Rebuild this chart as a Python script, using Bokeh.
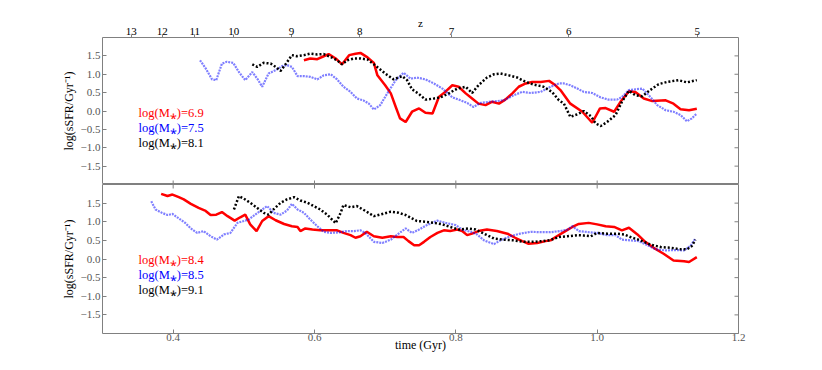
import math
from bokeh.plotting import figure
from bokeh.models import LinearAxis, FixedTicker, Range1d, ColumnDataSource
from bokeh.layouts import column
from bokeh.embed import file_html
from bokeh.resources import INLINE
from bokeh.core.properties import value

# ---------------- data ----------------
# top panel
t_top_a = [0.585,0.594,0.604,0.613,0.620,0.630,0.639,0.649,0.658,0.665,0.675,0.684,0.689,0.700,0.708,0.715,0.721,0.729,0.738,0.748,0.757,0.767,0.776,0.785,0.795,0.804,0.814,0.823,0.832,0.842,0.851,0.861,0.870,0.880,0.889,0.899,0.908,0.920,0.932,0.941,0.948,0.962,0.979,0.993,1.004,1.012,1.024,1.033,1.045,1.054,1.066,1.078,1.097,1.108,1.118,1.130,1.141]
s_top_a = [1.38,1.43,1.41,1.49,1.55,1.43,1.27,1.52,1.56,1.58,1.46,1.31,0.97,0.70,0.48,0.11,-0.20,-0.30,-0.02,0.07,-0.05,-0.07,0.38,0.52,0.70,0.66,0.48,0.34,0.20,0.16,0.25,0.20,0.31,0.48,0.66,0.75,0.79,0.79,0.82,0.70,0.57,0.20,-0.02,-0.32,0.07,0.08,-0.02,0.25,0.54,0.52,0.34,0.27,0.29,0.20,0.05,0.02,0.06]

t_top_b = [0.438,0.446,0.455,0.461,0.469,0.476,0.485,0.493,0.502,0.512,
           0.519,0.526,0.535,0.545,0.554,0.561,0.568,0.576,0.585,0.594,
           0.604,0.613,0.623,0.632,0.641,0.651,0.660,0.669,0.677,0.684,
           0.693,0.703,0.715,0.726,0.736,0.745,0.757,0.769,0.781,0.795,
           0.807,0.816,0.825,0.835,0.847,0.858,0.868,0.882,0.894,0.906,
           0.920,0.934,0.946,0.953,0.962,0.972,0.981,0.993,1.005,1.016,
           1.028,1.035,1.045,1.054,1.064,1.073,1.085,1.097,1.108,1.118,
           1.127,1.134,1.141]
s_top_b = [1.38,1.16,0.86,0.84,1.29,1.34,1.31,1.06,0.84,1.06,
           0.88,0.66,1.02,1.11,1.22,1.25,1.20,0.95,0.95,0.93,
           0.86,0.97,1.00,0.86,0.66,0.52,0.34,0.29,0.20,0.04,
           0.16,0.48,0.84,1.04,0.88,0.91,0.86,0.75,0.61,0.37,
           0.29,0.22,0.11,0.22,0.25,0.27,0.29,0.43,0.52,0.49,
           0.52,0.66,0.75,0.75,0.70,0.61,0.52,0.49,0.37,0.31,
           0.31,0.38,0.57,0.59,0.61,0.43,0.16,0.02,-0.02,-0.11,
           -0.28,-0.20,-0.07]

t_top_c = [0.512,0.519,0.528,0.538,0.545,0.552,0.559,0.568,0.575,0.585,
           0.594,0.604,0.613,0.623,0.632,0.639,0.646,0.656,0.665,0.675,
           0.684,0.693,0.700,0.712,0.724,0.731,0.738,0.748,0.757,0.769,
           0.778,0.790,0.802,0.814,0.823,0.832,0.844,0.854,0.863,0.875,
           0.887,0.899,0.910,0.924,0.936,0.946,0.953,0.962,0.972,0.981,
           0.991,0.998,1.005,1.014,1.026,1.035,1.045,1.054,1.064,1.075,
           1.087,1.099,1.115,1.127,1.141]
s_top_c = [1.27,1.20,1.31,1.29,1.20,1.09,1.27,1.52,1.49,1.52,
           1.56,1.54,1.55,1.47,1.38,1.27,1.38,1.43,1.43,1.40,
           1.27,1.13,1.02,0.86,0.95,0.84,0.59,0.46,0.31,0.34,
           0.37,0.48,0.61,0.66,0.49,0.70,0.91,1.00,1.02,0.97,
           0.91,0.79,0.72,0.66,0.52,0.29,0.20,-0.16,-0.09,0.00,
           -0.14,-0.34,-0.41,-0.30,-0.11,0.25,0.55,0.43,0.40,0.57,
           0.73,0.79,0.84,0.78,0.84]

# bottom panel
t_bot_a = [0.383,0.392,0.399,0.408,0.415,0.425,0.436,0.446,0.453,0.461,
           0.469,0.477,0.487,0.495,0.502,0.509,0.518,0.526,0.535,0.545,
           0.557,0.568,0.576,0.580,0.587,0.597,0.608,0.620,0.632,0.641,
           0.651,0.658,0.665,0.674,0.684,0.696,0.708,0.717,0.726,0.733,
           0.741,0.748,0.755,0.764,0.774,0.783,0.792,0.802,0.809,0.816,
           0.823,0.832,0.844,0.858,0.873,0.884,0.894,0.903,0.915,0.927,
           0.934,0.943,0.955,0.965,0.974,0.988,1.000,1.012,1.024,1.035,
           1.045,1.057,1.068,1.080,1.094,1.108,1.123,1.130,1.141]
s_bot_a = [1.75,1.69,1.73,1.66,1.60,1.48,1.37,1.29,1.18,1.19,
           1.26,1.15,1.03,1.12,1.19,0.93,0.75,1.02,1.15,1.04,
           0.94,0.88,0.86,0.75,0.82,0.79,0.77,0.77,0.77,0.70,
           0.64,0.57,0.61,0.73,0.61,0.57,0.61,0.59,0.59,0.48,
           0.37,0.37,0.46,0.59,0.70,0.77,0.75,0.79,0.75,0.64,
           0.68,0.75,0.79,0.75,0.68,0.57,0.48,0.41,0.43,0.48,
           0.50,0.61,0.75,0.86,0.94,0.97,0.93,0.88,0.86,0.77,
           0.84,0.66,0.46,0.30,0.14,-0.04,-0.06,-0.08,0.05]

t_bot_b = [0.369,0.375,0.384,0.392,0.399,0.408,0.417,0.425,0.434,0.443,
           0.453,0.462,0.472,0.481,0.491,0.500,0.507,0.516,0.526,0.533,
           0.542,0.552,0.561,0.568,0.576,0.585,0.594,0.604,0.613,0.623,
           0.637,0.646,0.656,0.665,0.672,0.684,0.696,0.708,0.719,0.729,
           0.738,0.748,0.759,0.774,0.785,0.800,0.809,0.821,0.830,0.840,
           0.854,0.863,0.877,0.891,0.906,0.920,0.934,0.948,0.958,0.965,
           0.974,0.988,1.000,1.014,1.026,1.035,1.047,1.059,1.071,1.083,
           1.097,1.111,1.123,1.132,1.139]
s_bot_b = [1.55,1.33,1.24,1.18,1.21,1.09,0.97,0.82,0.70,0.75,
           0.61,0.52,0.66,0.70,0.97,1.02,1.06,1.19,1.33,1.42,
           1.24,1.19,1.30,1.48,1.33,1.24,1.06,0.88,0.73,0.70,
           0.72,0.75,0.75,0.77,0.70,0.46,0.43,0.52,0.68,0.82,
           0.70,0.79,0.91,1.03,0.97,0.91,0.79,0.73,0.66,0.50,
           0.40,0.50,0.61,0.68,0.73,0.72,0.72,0.75,0.79,0.88,
           0.75,0.72,0.70,0.64,0.64,0.52,0.50,0.48,0.37,0.26,
           0.23,0.24,0.23,0.35,0.55]

t_bot_c = [0.486,0.493,0.500,0.509,0.519,0.528,0.535,0.542,0.552,0.561,
           0.571,0.580,0.590,0.599,0.608,0.618,0.630,0.637,0.641,0.651,
           0.660,0.672,0.684,0.696,0.708,0.719,0.729,0.738,0.745,0.757,
           0.769,0.781,0.792,0.804,0.818,0.828,0.840,0.854,0.868,0.882,
           0.896,0.910,0.922,0.934,0.946,0.958,0.972,0.981,0.991,1.000,
           1.014,1.028,1.038,1.047,1.061,1.075,1.090,1.104,1.118,1.127,
           1.134,1.139]
s_bot_c = [1.33,1.69,1.62,1.51,1.37,1.24,1.19,1.33,1.51,1.60,
           1.66,1.57,1.51,1.42,1.33,1.19,0.96,1.24,1.45,1.39,
           1.42,1.29,1.15,1.21,1.27,1.24,1.18,1.09,1.02,1.00,
           0.97,0.93,0.86,0.79,0.82,0.79,0.68,0.55,0.52,0.50,
           0.46,0.46,0.48,0.51,0.59,0.61,0.64,0.63,0.61,0.70,
           0.68,0.68,0.66,0.59,0.50,0.39,0.32,0.30,0.26,0.26,
           0.35,0.52]

# legend labels
labels_top = ["log(M\u204e)=6.9", "log(M\u204e)=7.5", "log(M\u204e)=8.1"]
labels_bot = ["log(M\u204e)=8.4", "log(M\u204e)=8.5", "log(M\u204e)=9.1"]
label_y_top = [-0.05, -0.46, -0.87]
label_y_bot = [-0.04, -0.44, -0.82]
label_x = 0.351

# axes ticks
X_MIN, X_MAX, Y_MIN, Y_MAX = 0.3, 1.2, -2.0, 2.0
x_ticks = [0.4, 0.6, 0.8, 1.0, 1.2]
x_tick_labels = ["0.4", "0.6", "0.8", "1.0", "1.2"]
y_ticks = [-1.5, -1.0, -0.5, 0.0, 0.5, 1.0, 1.5]
y_tick_labels = ["\u22121.5", "\u22121.0", "\u22120.5", "0.0", "0.5", "1.0", "1.5"]
z_tick_times = [0.3406, 0.3845, 0.4306, 0.4858, 0.5675, 0.6641, 0.7939, 0.9598, 1.1415]
z_tick_labels = ["13", "12", "11", "10", "9", "8", "7", "6", "5"]

# ---------------- style ----------------
SERIF = "Liberation Serif"
FRAME = "#808080"
TICKLAB = "#555555"
colors = ["#ff0000", "#0000ff", "#000000"]


def style_axis(ax, overrides, tick_in=4, tick_out=0):
    ax.axis_line_color = None
    ax.major_tick_in = tick_in
    ax.major_tick_out = tick_out
    ax.minor_tick_in = 0
    ax.minor_tick_out = 0
    ax.major_tick_line_color = FRAME
    ax.major_tick_line_width = 1
    ax.major_label_text_font = SERIF
    ax.major_label_text_color = TICKLAB
    ax.major_label_text_font_size = "11px"
    ax.major_label_overrides = overrides
    ax.axis_label_text_font = SERIF
    ax.axis_label_text_font_style = "normal"
    ax.axis_label_text_font_size = "12px"
    ax.axis_label_text_color = "#000000"


def inner_ticks(p, xs, ys, vertical):
    # small tick marks on frame edges (half of each marker is clipped away)
    p.scatter(xs, ys, marker="dash", size=8, line_color=FRAME, line_width=1,
              angle=(math.pi / 2 if vertical else 0.0))


def make_panel(height, top, bottom, x_axis_loc):
    p = figure(width=822, height=height,
               x_range=Range1d(X_MIN, X_MAX), y_range=Range1d(Y_MIN, Y_MAX),
               output_backend="svg", toolbar_location=None,
               x_axis_location=x_axis_loc,
               min_border_left=102, min_border_right=84,
               min_border_top=top, min_border_bottom=bottom,
               background_fill_color="white", border_fill_color="white")
    p.grid.visible = False
    p.outline_line_color = FRAME
    p.outline_line_width = 1
    p.yaxis.ticker = FixedTicker(ticks=y_ticks)
    style_axis(p.yaxis[0], dict(zip(y_ticks, y_tick_labels)))
    p.yaxis[0].major_label_standoff = 2
    p.yaxis[0].axis_label = "log(sSFR/Gyr\u207b\u00b9)"
    p.yaxis[0].axis_label_standoff = 2
    # right-edge ticks
    inner_ticks(p, [X_MAX] * len(y_ticks), y_ticks, False)
    return p


def draw(p, ta, sa, tb, sb, tc, sc, labels, ly):
    p.line(ta, sa, line_color=colors[0], line_width=2.5)
    p.line(tb, sb, line_color=colors[1], line_width=2.2, line_alpha=0.5,
           line_dash="2 1")
    p.line(tc, sc, line_color=colors[2], line_width=2.5, line_dash="2 2")
    src = ColumnDataSource(dict(x=[label_x] * len(labels), y=ly,
                                text=labels, color=colors))
    p.text(x="x", y="y", text="text", text_color="color", source=src,
           text_font=value(SERIF), text_font_size="12.5px",
           text_align="left", text_baseline="middle")


# top panel
top = make_panel(184, 37, 0, None)
inner_ticks(top, x_ticks, [Y_MIN] * len(x_ticks), True)
z_axis = LinearAxis(ticker=FixedTicker(ticks=z_tick_times), axis_label="z")
style_axis(z_axis, dict(zip(z_tick_times, z_tick_labels)), tick_in=0, tick_out=3)
z_axis.major_label_text_color = "#000000"
z_axis.major_label_standoff = 0
z_axis.axis_label_standoff = -4
z_axis.axis_label_text_font_size = "11px"
top.add_layout(z_axis, "above")
draw(top, t_top_a, s_top_a, t_top_b, s_top_b, t_top_c, s_top_c,
     labels_top, label_y_top)

# bottom panel
bot = make_panel(186, 0, 37, "below")
bot.xaxis.ticker = FixedTicker(ticks=x_ticks)
style_axis(bot.xaxis[0], dict(zip(x_ticks, x_tick_labels)))
bot.xaxis[0].major_label_standoff = 0
bot.xaxis[0].axis_label = "time (Gyr)"
bot.xaxis[0].axis_label_standoff = -6
inner_ticks(bot, x_ticks, [Y_MAX] * len(x_ticks), True)
draw(bot, t_bot_a, s_bot_a, t_bot_b, s_bot_b, t_bot_c, s_bot_c,
     labels_bot, label_y_bot)

layout = column(top, bot, spacing=0)
open("out.html", "w").write(file_html(layout, INLINE))
